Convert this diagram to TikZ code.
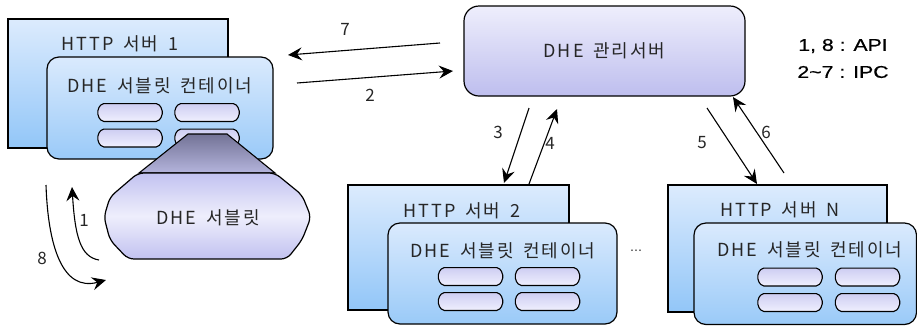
\documentclass[tikz,border=0pt]{standalone}
\usepackage{fontspec}
\setmainfont{Noto Sans CJK KR}[LetterSpace=11,WordSpace=1.6]
\newfontfamily\legendfont{Liberation Sans}[FakeStretch=1.25,FakeBold=0.6]
\newfontfamily\dotsfont{DejaVu Sans}
\usetikzlibrary{arrows.meta}
\definecolor{srvtop}{HTML}{DCEBFD}
\definecolor{srvbot}{HTML}{92C6F8}
\definecolor{conttop}{HTML}{DAEAFD}
\definecolor{contbot}{HTML}{9ACAF8}
\definecolor{pilltop}{HTML}{CDCDF2}
\definecolor{pillbot}{HTML}{F0F0FE}
\definecolor{mgtop}{HTML}{EEEEFC}
\definecolor{mgbot}{HTML}{BEBEEE}
\definecolor{traptop}{HTML}{737396}
\definecolor{trapbot}{HTML}{B4B4DC}
\definecolor{blobedge}{HTML}{C2C2F0}
\definecolor{blobmid}{HTML}{EEEEFC}
\definecolor{txt}{HTML}{262626}
\tikzset{
  srv/.style={draw=black, line width=1.2pt, rectangle, top color=srvtop, bottom color=srvbot, inner sep=0pt},
  cont/.style={draw=black, line width=1.2pt, rectangle, rounded corners=12pt, top color=conttop, bottom color=contbot, inner sep=0pt},
  pillbox/.style={rectangle, minimum width=64pt, minimum height=17.5pt, inner sep=0pt},
  pillsty/.style={draw=black, line width=1.1pt, rounded corners=2pt, top color=pilltop, bottom color=pillbot},
  mgmt/.style={draw=black, line width=1.2pt, rectangle, rounded corners=15pt, top color=mgtop, bottom color=mgbot, inner sep=0pt, text=txt, font=\fontsize{18pt}{21pt}\selectfont},
  lbl/.style={text=txt, inner sep=0pt, font=\fontsize{18pt}{21pt}\selectfont},
  num/.style={text=txt, inner sep=0pt, font=\fontsize{17pt}{20pt}\selectfont},
  legend/.style={text=black, inner sep=0pt, font=\legendfont\fontsize{17pt}{20pt}\selectfont},
  arr/.style={line width=1.1pt, -{Stealth[length=14pt,width=13pt,inset=5pt]}},
}
\newcommand\pillat[3]{%
  \node[pillbox] (#1) at (#2,#3) {};
  \draw[pillsty] ([xshift=4pt]#1.north west) -- ([xshift=-4pt]#1.north east)
    -- ([yshift=-5.5pt]#1.north east) -- ([yshift=5.5pt]#1.south east)
    -- ([xshift=-4pt]#1.south east) -- ([xshift=4pt]#1.south west)
    -- ([yshift=5.5pt]#1.south west) -- ([yshift=-5.5pt]#1.north west) -- cycle;
}
\begin{document}
\begin{tikzpicture}[x=1pt,y=-1pt]
\useasboundingbox (0,0) rectangle (917,325);
\clip (0,0) rectangle (917,325);

% HTTP server 1
\node[srv, minimum width=220pt, minimum height=129pt] (h1) at (118,83.5) {};
\node[lbl] (h1t) at (120,44) {HTTP 서버 1};
\node[cont, minimum width=226pt, minimum height=102pt] (c1) at (160,108) {};
\node[lbl] (c1t) at (160,86) {DHE 서블릿 컨테이너};
\pillat{p11}{130}{112.5}
\pillat{p12}{207}{112.5}
\pillat{p13}{130}{138}
\pillat{p14}{207}{138}

% servlet
\draw[line width=1.1pt, top color=traptop, bottom color=trapbot] (188,134) -- (227,134) -- (275,173) -- (139,173) -- cycle;
\draw[line width=1.2pt, top color=blobedge, bottom color=blobedge, middle color=blobmid, rounded corners=6pt]
  (138,173) -- (275,173) -- (302,195) -- (311,217) -- (302,240) -- (287,259) -- (128,259) -- (110,240) -- (104,217) -- (110,197) -- cycle;
\node[lbl] (sv) at (208,218) {DHE 서블릿};

% management server
\node[mgmt, minimum width=281pt, minimum height=90pt] (m) at (604.5,51) {DHE 관리서버};

% legend
\node[legend] (lg1) at (843,46) {1, 8 : API};
\node[legend] (lg2) at (843,72) {2\textasciitilde7 : IPC};

% HTTP server 2
\node[srv, minimum width=221pt, minimum height=125pt] (h2) at (458.5,247.5) {};
\node[lbl] (h2t) at (462,211) {HTTP 서버 2};
\node[cont, minimum width=229pt, minimum height=101pt] (c2) at (502.5,273.5) {};
\node[lbl] (c2t) at (503,251) {DHE 서블릿 컨테이너};
\pillat{p21}{470.5}{276.5}
\pillat{p22}{547.5}{276.5}
\pillat{p23}{470.5}{301.5}
\pillat{p24}{547.5}{301.5}

\node[text=txt, inner sep=0pt, font=\dotsfont\fontsize{12pt}{14pt}\selectfont] (dots) at (636,252) {⋯};

% HTTP server N
\node[srv, minimum width=219pt, minimum height=127pt] (hn) at (777.5,248.5) {};
\node[lbl] (hnt) at (780,210) {HTTP 서버 N};
\node[cont, minimum width=222.5pt, minimum height=101.5pt] (cn) at (805.25,273.75) {};
\node[lbl] (cnt) at (810,250) {DHE 서블릿 컨테이너};
\pillat{pn1}{790}{277}
\pillat{pn2}{867.5}{277}
\pillat{pn3}{790}{302.5}
\pillat{pn4}{867.5}{302.5}

% arrow end points
\coordinate (a7s) at (440,43);  \coordinate (a7e) at (288,55);
\coordinate (a2s) at (297,83);  \coordinate (a2e) at (453,71);
\coordinate (a3s) at (529,108); \coordinate (a3e) at (504,183);
\coordinate (a4s) at (529,184); \coordinate (a4e) at (557,109);
\coordinate (a5s) at (707,108); \coordinate (a5e) at (757,184);
\coordinate (a6s) at (784,173); \coordinate (a6e) at (733,97);
\coordinate (a1s) at (99,260);  \coordinate (a1e) at (72,187);
\coordinate (a8s) at (46,185);  \coordinate (a8e) at (106,280);

\draw[arr] (a7s) -- (a7e);
\draw[arr] (a2s) -- (a2e);
\draw[arr] (a3s) -- (a3e);
\draw[arr] (a4s) -- (a4e);
\draw[arr] (a5s) -- (a5e);
\draw[arr] (a6s) -- (a6e);
\draw[arr] (a1s) .. controls (80,257) and (75,235) .. (a1e);
\draw[arr] (a8s) .. controls (48,245) and (62,292) .. (a8e);

\node[num] (n7) at (345,29) {7};
\node[num] (n2) at (370,95) {2};
\node[num] (n3) at (498,132) {3};
\node[num] (n4) at (550,143) {4};
\node[num] (n5) at (702,143) {5};
\node[num] (n6) at (766,132) {6};
\node[num] (n1) at (84,220) {1};
\node[num] (n8) at (42,258) {8};
\end{tikzpicture}
\end{document}
